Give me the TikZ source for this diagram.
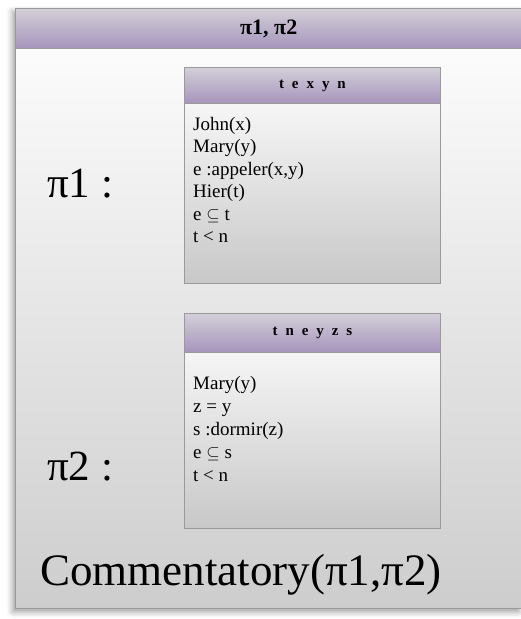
\documentclass[tikz,border=0pt]{standalone}
\usepackage{fontspec}
\setmainfont{Liberation Serif}
\newfontfamily\tagfont[LetterSpace=28]{Liberation Serif}
\usetikzlibrary{positioning, shadows.blur}
\definecolor{barTop}{HTML}{D3CFD8}
\definecolor{barBot}{HTML}{A694BC}
\definecolor{edgeGray}{HTML}{9A9A9A}
\definecolor{paneBot}{HTML}{CDCDCD}
\definecolor{cardBot}{HTML}{C8C8C8}

\begin{document}
\begin{tikzpicture}[
    x=1pt, y=-1pt,
    pane/.style={draw=edgeGray, line width=1.4pt, top color=white,
                 bottom color=paneBot, inner sep=0pt, anchor=north west},
    bar/.style={draw=edgeGray, line width=1.4pt, top color=barTop,
                bottom color=barBot, inner sep=0pt, anchor=north west},
    card/.style={draw=edgeGray, line width=0.9pt, top color=white,
                 bottom color=cardBot, inner sep=0pt, anchor=north west,
                 minimum width=256pt},
    cardbar/.style={bar, line width=0.9pt, minimum width=256pt, minimum height=36pt},
    tag/.style={font=\tagfont\bfseries\fontsize{15}{17}\selectfont},
    facts/.style={anchor=north west, align=left, inner sep=0pt,
                  font=\fontsize{19}{22.5}\selectfont},
    big/.style={anchor=west, inner sep=0pt, font=\fontsize{43}{47}\selectfont},
  ]
  \useasboundingbox (0,0) rectangle (520,619);

  % outer frame
  \node[pane, minimum width=506pt, minimum height=600pt,
        blur shadow={shadow xshift=-3pt, shadow yshift=-3pt, shadow blur radius=6pt}]
        (frame) at (15,8) {};
  \node[bar, minimum width=506pt, minimum height=40pt] (framebar) at (15,8) {};
  \node[font=\bfseries\fontsize{22}{24}\selectfont] (title) at (framebar.center) {π1, π2};

  % first box
  \node[card, minimum height=216pt] (k1) at (184,67) {};
  \node[cardbar] (k1bar) at (184,67) {};
  \node[tag] (k1tag) at (k1bar.center) {t e x y n};
  \node[facts] (k1facts) at (193,117)
    {John(x)\\Mary(y)\\e :appeler(x,y)\\Hier(t)\\e $\subseteq$ t\\t < n};

  % second box
  \node[card, minimum height=215pt] (k2) at (184,313) {};
  \node[cardbar, minimum height=39pt] (k2bar) at (184,313) {};
  \node[tag] (k2tag) at (k2bar.center) {t n e y z s};
  \node[facts, font=\fontsize{19}{23}\selectfont] (k2facts) at (193,376)
    {Mary(y)\\z = y\\s :dormir(z)\\e $\subseteq$ s\\t < n};

  % labels
  \node[big] (pi1) at (47,184) {π1 :};
  \node[big] (pi2) at (47,467) {π2 :};
  \node[big, font=\fontsize{45}{49}\selectfont] (comm) at (40,575) {Commentatory(π1,π2)};
\end{tikzpicture}
\end{document}
